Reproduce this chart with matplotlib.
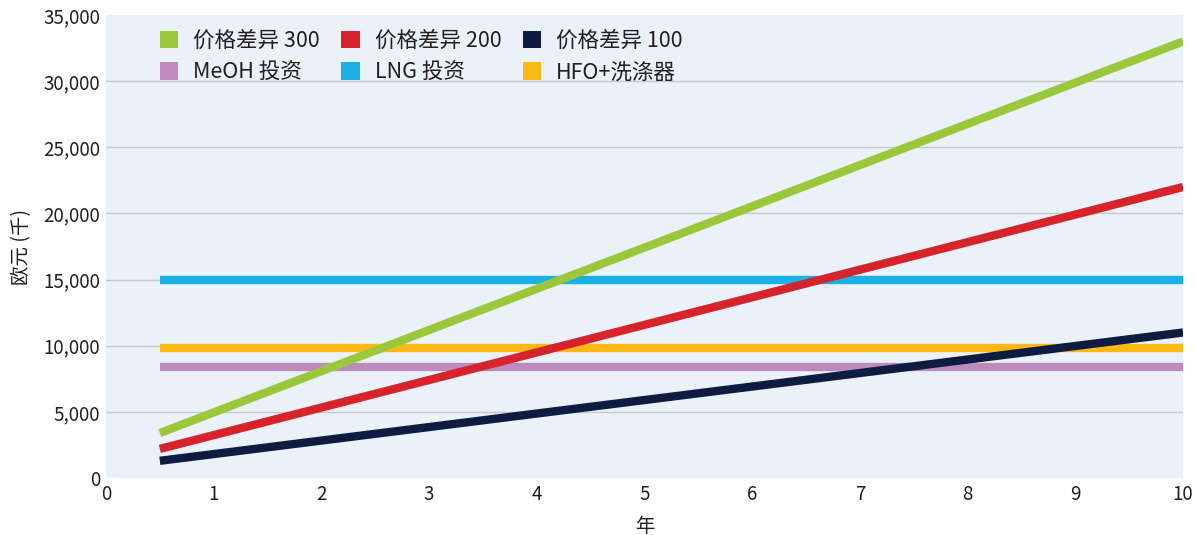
import matplotlib
matplotlib.use("Agg")
import matplotlib.pyplot as plt
import matplotlib.ticker as ticker
from matplotlib.patches import Patch

plt.rcParams["font.family"] = ["Noto Sans CJK SC", "DejaVu Sans"]

# ── data (thousand EUR) ──────────────────────────────────────────────────────
years = [0.5, 10]
spread_300 = [3400, 33000]
spread_200 = [2200, 22000]
spread_100 = [1300, 11000]
meoh_capex = [8400, 8400]
lng_capex = [15000, 15000]
hfo_scrubber = [9800, 9800]

labels = ["价格差异 300", "价格差异 200", "价格差异 100",
          "MeOH 投资", "LNG 投资", "HFO+洗涤器"]
colors = ["#9BC83B", "#D7232C", "#0D1C40", "#BF8BBF", "#1BB0E6", "#FDB913"]

TEXT = "#231F20"

fig = plt.figure(figsize=(11.95, 5.35), dpi=100)
ax = fig.add_axes([0.0887, 0.1065, 0.9013, 0.8655])
ax.set_facecolor("#EAF1F8")
for s in ax.spines.values():
    s.set_visible(False)

# flat investment lines first, slopes on top
series = [spread_300, spread_200, spread_100, meoh_capex, lng_capex, hfo_scrubber]
order = [3, 5, 4, 0, 1, 2]
for z, i in enumerate(order):
    ax.plot(years, series[i], color=colors[i], linewidth=6,
            solid_capstyle="butt", zorder=3 + z)

ax.set_xlim(0, 10)
ax.set_ylim(0, 35000)
ax.set_xticks(range(0, 11))
ax.set_yticks(range(0, 35001, 5000))
ax.yaxis.set_major_formatter(ticker.FuncFormatter(lambda v, _: f"{int(v):,}"))
ax.tick_params(length=0, labelsize=13.5, colors=TEXT, pad=4)
for y in range(5000, 35000, 5000):
    ax.axhline(y, color="#C8C8C8", linewidth=1.0, zorder=1)

ax.set_xlabel("年", fontsize=14, color=TEXT, labelpad=8)
ax.set_ylabel("欧元 (千)", fontsize=14, color=TEXT, labelpad=8)

# legend fills column-wise, so interleave to get row-wise order
leg_order = [0, 3, 1, 4, 2, 5]
handles = [Patch(facecolor=colors[i], edgecolor="none") for i in leg_order]
ax.legend(handles, [labels[i] for i in leg_order], ncol=3, loc="upper left",
          bbox_to_anchor=(0.032, 1.01), frameon=False, fontsize=15.5,
          handlelength=0.85, handleheight=0.85, handletextpad=0.7,
          columnspacing=1.0, labelspacing=0.45, labelcolor=TEXT)

fig.savefig("out.png", dpi=100)
